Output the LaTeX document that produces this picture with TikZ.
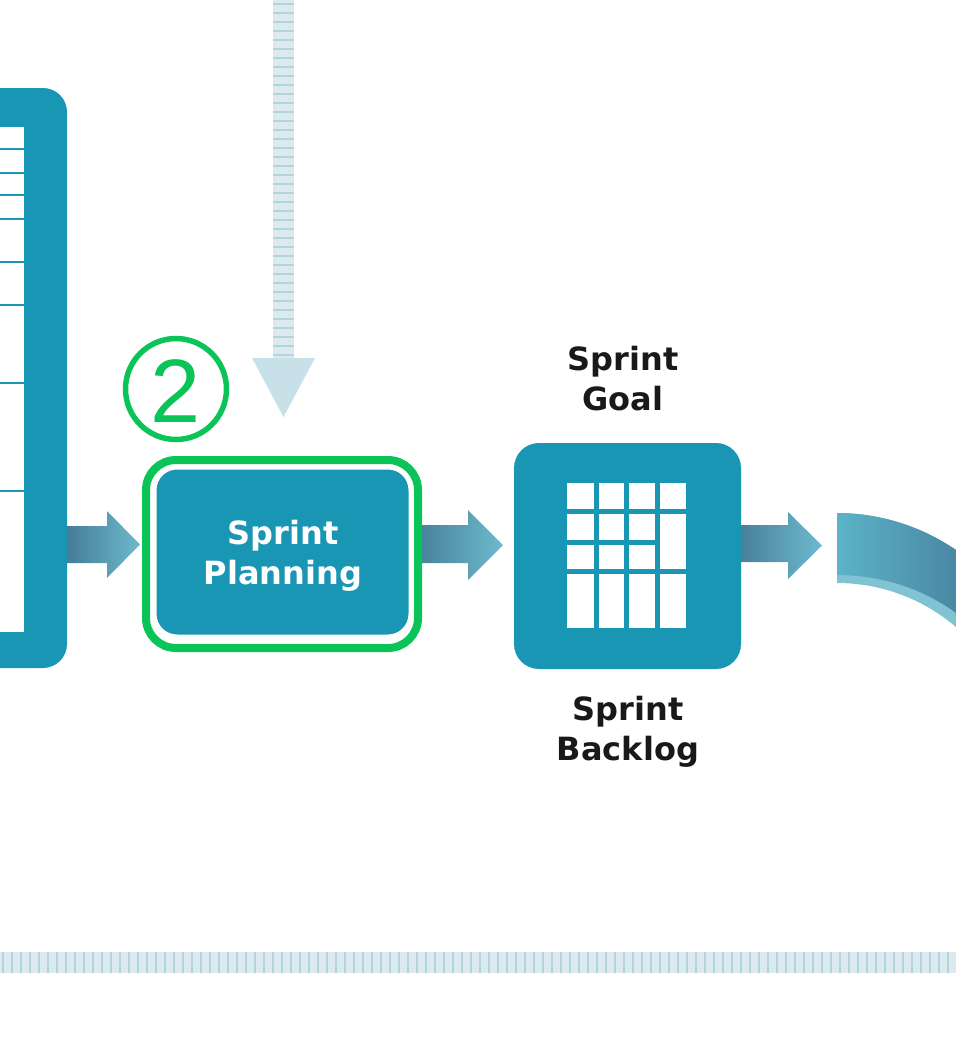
\documentclass[tikz,border=0pt]{standalone}
\usepackage{fontspec}
\setmainfont{DejaVu Sans}
\newfontfamily\digitfont{Liberation Sans}
\definecolor{teal0}{HTML}{1896B3}
\definecolor{adark}{HTML}{467C97}
\definecolor{alight}{HTML}{6DBACD}
\definecolor{cvlight}{HTML}{5CB3C8}
\definecolor{cvdark}{HTML}{4A88A4}
\definecolor{cvstripe}{HTML}{80C3D3}
\definecolor{green0}{HTML}{0AC457}
\definecolor{dashbase}{HTML}{DCEAF0}
\definecolor{dashln}{HTML}{B3D3DE}
\definecolor{dashhd}{HTML}{C8E1E8}
\tikzset{
  tealbox/.style={fill=teal0, inner sep=0pt},
  lbl/.style={font=\bfseries\fontsize{32}{40}\selectfont, align=center, text=black!90, inner sep=0pt},
  cell/.style={fill=white},
  dashln/.style={draw=dashln, line width=2.6pt},
}
\begin{document}
\begin{tikzpicture}[x=1pt,y=-1pt]
\useasboundingbox (0,0) rectangle (956,1045);
\fill[white] (0,0) rectangle (956,1045);
\begin{scope}
\clip (0,0) rectangle (956,1045);
% bottom striped line
\fill[dashbase] (0,952) rectangle (956,973);
\foreach \x in {3,12,...,956} \draw[dashln] (\x,952) -- (\x,973);
% vertical striped arrow
\coordinate (vtop) at (283.5,0);
\fill[dashbase] (273,0) rectangle (294,358);
\foreach \y in {4,13,...,355} \draw[dashln] (273,\y) -- (294,\y);
\fill[dashhd] (252,358) -- (315,358) -- (283.5,417) -- cycle;
% left product backlog box
\node[tealbox, rounded corners=24pt, minimum width=107pt, minimum height=580pt] (pbl) at (13.5,378) {};
\fill[white] (-40,127) rectangle (24,632);
\foreach \y in {149,173,195,219,262,305,383,491}
  \draw[teal0, line width=2.4pt] (-40,\y) -- (24,\y);
% arrow 1
\shade[left color=adark, right color=alight] (67,526) -- (107,526) -- (107,511) -- (140,544.5) -- (107,578) -- (107,563) -- (67,563) -- cycle;
% arrow 2
\shade[left color=adark, right color=alight] (412,525) -- (468,525) -- (468,510) -- (503,545) -- (468,580) -- (468,563) -- (412,563) -- cycle;
% green frame and sprint planning
\node[draw=green0, fill=white, line width=8pt, rounded corners=30pt, minimum width=272pt, minimum height=188pt, inner sep=0pt] (frame) at (282,554) {};
\node[tealbox, draw=white, line width=3pt, rounded corners=22pt, minimum width=255pt, minimum height=168pt] (planning) at (282.5,552) {};
\node[text=white, font=\bfseries\fontsize{32}{40}\selectfont, align=center, inner sep=0pt] (plantext) at (283,556) {Sprint\\Planning};
% arrow 3
\shade[left color=adark, right color=alight] (735,525) -- (788,525) -- (788,512) -- (822,545.5) -- (788,579) -- (788,562) -- (735,562) -- cycle;
% sprint backlog box
\node[tealbox, rounded corners=25pt, minimum width=227pt, minimum height=226pt] (sbl) at (627.5,556) {};
\foreach \xa/\xb in {567/594,599/624,629/655}{
  \fill[cell] (\xa,483) rectangle (\xb,509);
  \fill[cell] (\xa,514) rectangle (\xb,540);
  \fill[cell] (\xa,545) rectangle (\xb,569);
  \fill[cell] (\xa,574) rectangle (\xb,628);
}
\fill[cell] (660,483) rectangle (686,509);
\fill[cell] (660,514) rectangle (686,569);
\fill[cell] (660,574) rectangle (686,628);
% labels
\node[lbl] (goal) at (623,379) {Sprint\\Goal};
\node[lbl] (sbllabel) at (628,732) {Sprint\\Backlog};
% curved band at right
\fill[cvstripe] (837,513) .. controls (879.4,513) and (921,526) .. (956,550) -- (970,560) -- (970,640) -- (956,627) .. controls (922.8,598.6) and (880.7,583) .. (837,583) -- cycle;
\shade[left color=cvlight, right color=cvdark] (837,513) .. controls (879.4,513) and (921,526) .. (956,550) -- (956,613) .. controls (922,588) and (880,575) .. (837,575) -- cycle;
% circled number
\node[draw=green0, line width=5.5pt, circle, minimum size=101pt, inner sep=0pt] (num) at (176,389) {};
\node[text=green0, font=\digitfont\fontsize{90}{90}\selectfont, inner sep=0pt] (numtxt) at (176,391) {2};
\end{scope}
\end{tikzpicture}
\end{document}
